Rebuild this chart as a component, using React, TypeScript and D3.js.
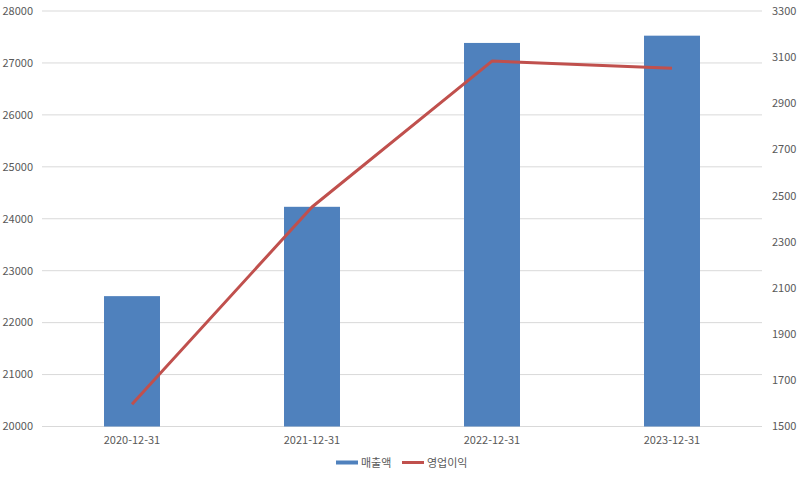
import React from "react";
import * as d3 from "d3";

const categories = ["2020-12-31", "2021-12-31", "2022-12-31", "2023-12-31"];
const sales = [22510, 24230, 27385, 27525];
const opProfit = [1596, 2451, 3083, 3052];
const leftTicks = [20000, 21000, 22000, 23000, 24000, 25000, 26000, 27000, 28000];
const rightTicks = [1500, 1700, 1900, 2100, 2300, 2500, 2700, 2900, 3100, 3300];
const seriesNames = ["매출액", "영업이익"];

const W = 800, H = 479;
const left = 42, right = 762, top = 11, bottom = 426.5;
const font = "'Noto Sans CJK KR', 'Open Sans', sans-serif";
const textColor = "#595959";

export default function App() {
  const x = d3.scaleBand<string>().domain(categories).range([left, right]).paddingInner(0.689).paddingOuter(0.3445);
  const yL = d3.scaleLinear().domain([20000, 28000]).range([bottom, top]);
  const yR = d3.scaleLinear().domain([1500, 3300]).range([bottom, top]);
  const line = d3.line<number>().x((_, i) => (x(categories[i]) as number) + x.bandwidth() / 2).y((d) => yR(d));

  return (
    <svg width={W} height={H} style={{ position: "absolute", left: 0, top: 0, background: "#fff" }} fontFamily={font}>
      <rect width={W} height={H} fill="#fff" />
      {leftTicks.map((t) => (
        <line key={t} x1={left} x2={right} y1={yL(t)} y2={yL(t)} stroke="#d9d9d9" strokeWidth={1} />
      ))}
      {leftTicks.map((t) => (
        <text key={"l" + t} x={33} y={yL(t)} dy="0.35em" textAnchor="end" fontSize={11} fill={textColor}>{t}</text>
      ))}
      {rightTicks.map((t) => (
        <text key={"r" + t} x={772} y={yR(t)} dy="0.35em" textAnchor="start" fontSize={11} fill={textColor}>{t}</text>
      ))}
      {sales.map((v, i) => (
        <rect key={i} x={x(categories[i])} y={yL(v)} width={x.bandwidth()} height={bottom - yL(v)} fill="#4F81BD" />
      ))}
      <path d={line(opProfit) || ""} fill="none" stroke="#C0504D" strokeWidth={3} strokeLinejoin="round" />
      {categories.map((c) => (
        <text key={c} x={(x(c) as number) + x.bandwidth() / 2} y={440} dy="0.35em" textAnchor="middle" fontSize={11} fill={textColor}>{c}</text>
      ))}
      <rect x={336} y={460.5} width={22} height={4} fill="#4F81BD" />
      <text x={361} y={463} dy="0.35em" fontSize={11} fill={textColor}>{seriesNames[0]}</text>
      <line x1={402} x2={424} y1={462.5} y2={462.5} stroke="#C0504D" strokeWidth={3} />
      <text x={427} y={463} dy="0.35em" fontSize={11} fill={textColor}>{seriesNames[1]}</text>
    </svg>
  );
}
